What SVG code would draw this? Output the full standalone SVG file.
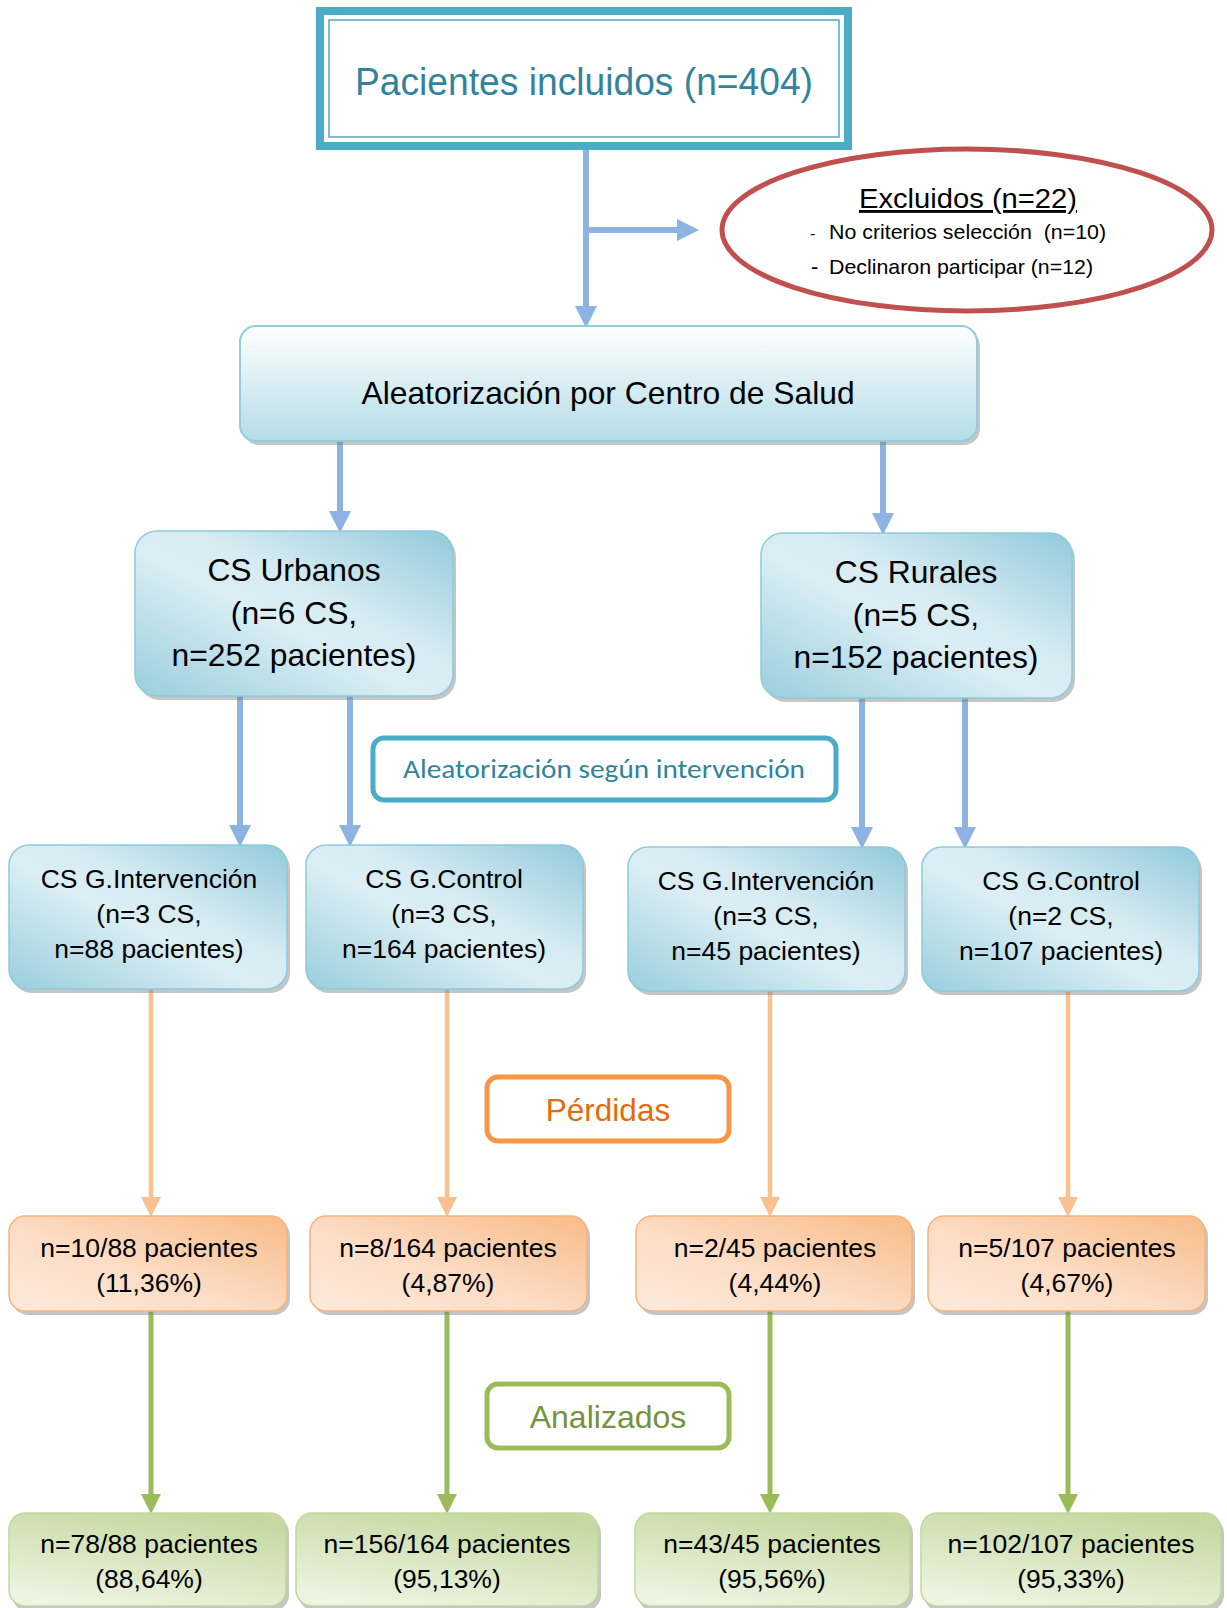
<svg xmlns="http://www.w3.org/2000/svg" width="1227" height="1608" viewBox="0 0 1227 1608">
<defs>
  <linearGradient id="gMain" x1="0" y1="0" x2="0" y2="1">
    <stop offset="0" stop-color="#ffffff"/>
    <stop offset="1" stop-color="#b4dce7"/>
  </linearGradient>
  <linearGradient id="gBlue" x1="0" y1="1" x2="1" y2="0">
    <stop offset="0" stop-color="#99cedc"/>
    <stop offset="0.45" stop-color="#dbeef4"/>
    <stop offset="0.6" stop-color="#d6ebf2"/>
    <stop offset="1" stop-color="#92cadb"/>
  </linearGradient>
  <linearGradient id="gOrange" x1="1" y1="0" x2="0" y2="1">
    <stop offset="0" stop-color="#f8bb87"/>
    <stop offset="0.55" stop-color="#fcdcc4"/>
    <stop offset="1" stop-color="#fdeadc"/>
  </linearGradient>
  <linearGradient id="gGreen" x1="0.7" y1="0" x2="0.3" y2="1">
    <stop offset="0" stop-color="#c4d89f"/>
    <stop offset="1" stop-color="#eef4e2"/>
  </linearGradient>
  <marker id="aBlue" markerUnits="userSpaceOnUse" markerWidth="22" markerHeight="22" refX="0" refY="11" orient="auto" viewBox="0 0 22 22">
    <path d="M0,0 L22,11 L0,22 Z" fill="#8db3e2"/>
  </marker>
  <marker id="aOrange" markerUnits="userSpaceOnUse" markerWidth="20" markerHeight="20" refX="0" refY="10" orient="auto" viewBox="0 0 20 20">
    <path d="M0,0 L20,10 L0,20 Z" fill="#fac090"/>
  </marker>
  <marker id="aGreen" markerUnits="userSpaceOnUse" markerWidth="20" markerHeight="20" refX="0" refY="10" orient="auto" viewBox="0 0 20 20">
    <path d="M0,0 L20,10 L0,20 Z" fill="#9bbb59"/>
  </marker>
</defs>
<style>
  text { font-family: "Liberation Sans", Arial, sans-serif; text-anchor: middle; fill: #000; }
  .shadow { fill: #7f7f7f; opacity: 0.45; }
  .blue { fill: url(#gBlue); stroke: #8ccadb; stroke-width: 1.5; }
  .orange { fill: url(#gOrange); stroke: #f7b27a; stroke-width: 1.5; }
  .green { fill: url(#gGreen); stroke: #c3d69b; stroke-width: 1.5; }
  .t23 { font-size: 26.5px; }
  .t29 { font-size: 31.8px; }
  .cb { stroke: #8db3e2; stroke-width: 6; fill: none; }
  .co { stroke: #fac090; stroke-width: 4.5; fill: none; }
  .cg { stroke: #9bbb59; stroke-width: 5; fill: none; }
  .pre { white-space: pre; text-anchor: start; }
</style>
<rect width="1227" height="1608" fill="#ffffff"/>

<g id="connectors">
  <path class="cb" d="M586,150 V306" marker-end="url(#aBlue)"/>
  <path class="cb" d="M583,230 H677" marker-end="url(#aBlue)"/>
  <path class="cb" d="M340,441 V511" marker-end="url(#aBlue)"/>
  <path class="cb" d="M883,441 V513" marker-end="url(#aBlue)"/>
  <path class="cb" d="M240,696 V825" marker-end="url(#aBlue)"/>
  <path class="cb" d="M350,696 V825" marker-end="url(#aBlue)"/>
  <path class="cb" d="M862,698 V827" marker-end="url(#aBlue)"/>
  <path class="cb" d="M965,698 V827" marker-end="url(#aBlue)"/>
  <path class="co" d="M151,989 V1197" marker-end="url(#aOrange)"/>
  <path class="co" d="M447,989 V1197" marker-end="url(#aOrange)"/>
  <path class="co" d="M770,991 V1197" marker-end="url(#aOrange)"/>
  <path class="co" d="M1068,991 V1197" marker-end="url(#aOrange)"/>
  <path class="cg" d="M151,1311 V1494" marker-end="url(#aGreen)"/>
  <path class="cg" d="M447,1311 V1494" marker-end="url(#aGreen)"/>
  <path class="cg" d="M770,1311 V1494" marker-end="url(#aGreen)"/>
  <path class="cg" d="M1068,1311 V1494" marker-end="url(#aGreen)"/>
</g>

<g id="incluidos">
  <rect x="320" y="11" width="528" height="135" fill="#ffffff" stroke="#4bacc6" stroke-width="8"/>
  <rect x="329" y="20" width="510" height="117" fill="none" stroke="#4bacc6" stroke-width="1.5"/>
  <text x="584" y="95" textLength="458" lengthAdjust="spacingAndGlyphs" style="font-size:38px; fill:#31849b;">Pacientes incluidos (n=404)</text>
</g>

<g id="excluidos">
  <ellipse cx="967" cy="230" rx="245" ry="81" fill="#ffffff" stroke="#c0504d" stroke-width="5"/>
  <text x="968" y="208" textLength="218" lengthAdjust="spacingAndGlyphs" style="font-size:28.5px; text-decoration:underline;">Excluidos (n=22)</text>
  <text x="810" y="239" style="font-size:16px; text-anchor:start;">-</text>
  <text x="829" y="239" class="pre" textLength="277" lengthAdjust="spacingAndGlyphs" style="font-size:21px;">No criterios selección  (n=10)</text>
  <text x="811" y="274" style="font-size:22px; text-anchor:start;">-</text>
  <text x="829" y="274" class="pre" textLength="264" lengthAdjust="spacingAndGlyphs" style="font-size:21px;">Declinaron participar (n=12)</text>
</g>

<g id="aleatorizacion">
  <rect x="243" y="330" width="737" height="115" rx="16" class="shadow"/>
  <rect x="240" y="326" width="737" height="115" rx="16" fill="url(#gMain)" stroke="#92cddc" stroke-width="2"/>
  <text x="608" y="404" class="t29">Aleatorización por Centro de Salud</text>
</g>

<g id="urbanos">
  <rect x="138" y="535" width="318" height="165" rx="22" class="shadow"/>
  <rect x="135" y="531" width="318" height="165" rx="22" class="blue"/>
  <text x="294" y="581" class="t29">CS Urbanos</text>
  <text x="294" y="624" class="t29">(n=6 CS,</text>
  <text x="294" y="666" class="t29">n=252 pacientes)</text>
</g>

<g id="rurales">
  <rect x="764" y="537" width="311" height="165" rx="22" class="shadow"/>
  <rect x="761" y="533" width="311" height="165" rx="22" class="blue"/>
  <text x="916" y="583" class="t29">CS Rurales</text>
  <text x="916" y="626" class="t29">(n=5 CS,</text>
  <text x="916" y="668" class="t29">n=152 pacientes)</text>
</g>

<g id="aleatorizacion-intervencion">
  <rect x="373" y="738" width="463" height="62" rx="11" fill="#ffffff" stroke="#4bacc6" stroke-width="5"/>
  <text x="604" y="778" textLength="402" lengthAdjust="spacingAndGlyphs" style="font-family:Carlito, Lato, 'Open Sans', sans-serif; font-size:27px; fill:#31849b;">Aleatorización según intervención</text>
</g>

<g id="u-intervencion">
  <rect x="12" y="849" width="278" height="144" rx="20" class="shadow"/>
  <rect x="9" y="845" width="278" height="144" rx="20" class="blue"/>
  <text x="149" y="888" class="t23">CS G.Intervención</text>
  <text x="149" y="923" class="t23">(n=3 CS,</text>
  <text x="149" y="958" class="t23">n=88 pacientes)</text>
</g>

<g id="u-control">
  <rect x="309" y="849" width="277" height="144" rx="20" class="shadow"/>
  <rect x="306" y="845" width="277" height="144" rx="20" class="blue"/>
  <text x="444" y="888" class="t23">CS G.Control</text>
  <text x="444" y="923" class="t23">(n=3 CS,</text>
  <text x="444" y="958" class="t23">n=164 pacientes)</text>
</g>

<g id="r-intervencion">
  <rect x="631" y="851" width="277" height="144" rx="20" class="shadow"/>
  <rect x="628" y="847" width="277" height="144" rx="20" class="blue"/>
  <text x="766" y="890" class="t23">CS G.Intervención</text>
  <text x="766" y="925" class="t23">(n=3 CS,</text>
  <text x="766" y="960" class="t23">n=45 pacientes)</text>
</g>

<g id="r-control">
  <rect x="925" y="851" width="277" height="144" rx="20" class="shadow"/>
  <rect x="922" y="847" width="277" height="144" rx="20" class="blue"/>
  <text x="1061" y="890" class="t23">CS G.Control</text>
  <text x="1061" y="925" class="t23">(n=2 CS,</text>
  <text x="1061" y="960" class="t23">n=107 pacientes)</text>
</g>

<g id="perdidas">
  <rect x="487" y="1077" width="242" height="64" rx="11" fill="#ffffff" stroke="#f79646" stroke-width="5"/>
  <text x="608" y="1121" style="font-size:31.5px; fill:#e36c09;">Pérdidas</text>
</g>

<g id="p1">
  <rect x="12" y="1220" width="278" height="95" rx="16" class="shadow"/>
  <rect x="9" y="1216" width="278" height="95" rx="16" class="orange"/>
  <text x="149" y="1257" class="t23">n=10/88 pacientes</text>
  <text x="149" y="1292" class="t23">(11,36%)</text>
</g>

<g id="p2">
  <rect x="313" y="1220" width="277" height="95" rx="16" class="shadow"/>
  <rect x="310" y="1216" width="277" height="95" rx="16" class="orange"/>
  <text x="448" y="1257" class="t23">n=8/164 pacientes</text>
  <text x="448" y="1292" class="t23">(4,87%)</text>
</g>

<g id="p3">
  <rect x="639" y="1220" width="276" height="95" rx="16" class="shadow"/>
  <rect x="636" y="1216" width="276" height="95" rx="16" class="orange"/>
  <text x="775" y="1257" class="t23">n=2/45 pacientes</text>
  <text x="775" y="1292" class="t23">(4,44%)</text>
</g>

<g id="p4">
  <rect x="931" y="1220" width="277" height="95" rx="16" class="shadow"/>
  <rect x="928" y="1216" width="277" height="95" rx="16" class="orange"/>
  <text x="1067" y="1257" class="t23">n=5/107 pacientes</text>
  <text x="1067" y="1292" class="t23">(4,67%)</text>
</g>

<g id="analizados">
  <rect x="487" y="1384" width="242" height="64" rx="11" fill="#ffffff" stroke="#9bbb59" stroke-width="5"/>
  <text x="608" y="1428" style="font-size:32px; fill:#76923c;">Analizados</text>
</g>

<g id="a1">
  <rect x="12" y="1517" width="277" height="94" rx="16" class="shadow"/>
  <rect x="9" y="1513" width="277" height="93" rx="16" class="green"/>
  <text x="149" y="1553" class="t23">n=78/88 pacientes</text>
  <text x="149" y="1588" class="t23">(88,64%)</text>
</g>

<g id="a2">
  <rect x="299" y="1517" width="302" height="94" rx="16" class="shadow"/>
  <rect x="296" y="1513" width="302" height="93" rx="16" class="green"/>
  <text x="447" y="1553" class="t23">n=156/164 pacientes</text>
  <text x="447" y="1588" class="t23">(95,13%)</text>
</g>

<g id="a3">
  <rect x="638" y="1517" width="275" height="94" rx="16" class="shadow"/>
  <rect x="635" y="1513" width="275" height="93" rx="16" class="green"/>
  <text x="772" y="1553" class="t23">n=43/45 pacientes</text>
  <text x="772" y="1588" class="t23">(95,56%)</text>
</g>

<g id="a4">
  <rect x="924" y="1517" width="300" height="94" rx="16" class="shadow"/>
  <rect x="921" y="1513" width="300" height="93" rx="16" class="green"/>
  <text x="1071" y="1553" class="t23">n=102/107 pacientes</text>
  <text x="1071" y="1588" class="t23">(95,33%)</text>
</g>
</svg>
